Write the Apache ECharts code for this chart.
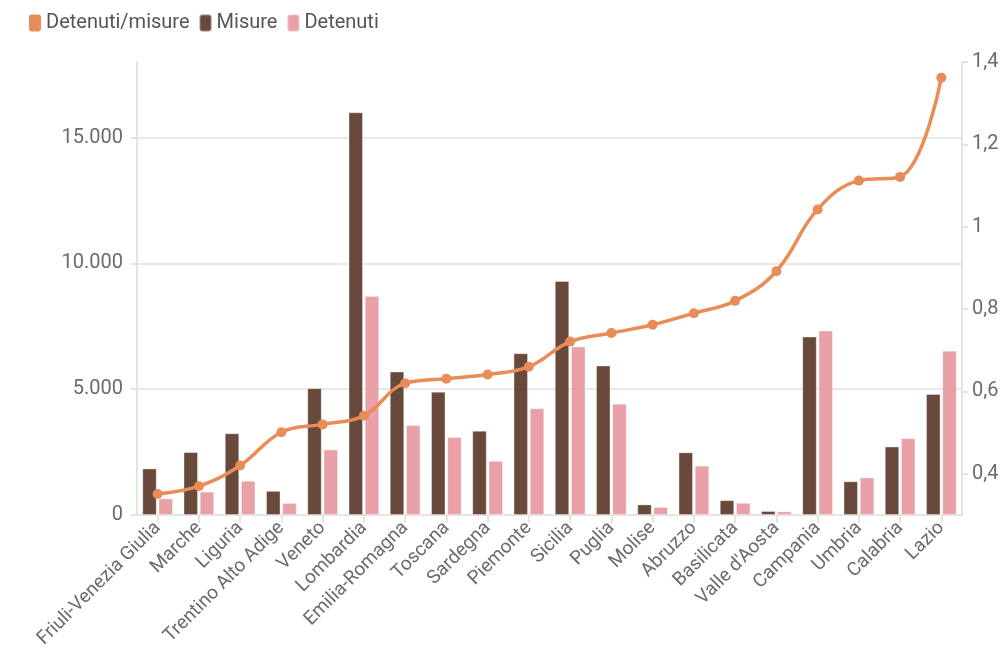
<!DOCTYPE html>
<html>
<head>
<meta charset="utf-8">
<script src="https://cdn.jsdelivr.net/npm/echarts@6/dist/echarts.min.js"></script>
<style>
  html, body { margin: 0; padding: 0; background: #ffffff; }
  #chart { width: 1005px; height: 661px; }
</style>
</head>
<body>
<div id="chart"></div>
<script>
// Regioni ordinate per rapporto detenuti/misure
const regioni = [
  'Friuli-Venezia Giulia', 'Marche', 'Liguria', 'Trentino Alto Adige', 'Veneto',
  'Lombardia', 'Emilia-Romagna', 'Toscana', 'Sardegna', 'Piemonte',
  'Sicilia', 'Puglia', 'Molise', 'Abruzzo', 'Basilicata',
  "Valle d'Aosta", 'Campania', 'Umbria', 'Calabria', 'Lazio'
];

// Misure alternative in corso
const misure = [
  1850, 2500, 3250, 960, 5040,
  16000, 5700, 4900, 3350, 6430,
  9300, 5940, 420, 2490, 590,
  160, 7090, 1340, 2720, 4810
];

// Detenuti presenti
const detenuti = [
  660, 930, 1360, 480, 2600,
  8700, 3580, 3100, 2150, 4240,
  6700, 4420, 320, 1960, 485,
  143, 7330, 1490, 3050, 6530
];

// Rapporto detenuti/misure
const rapporto = [
  0.351, 0.370, 0.420, 0.501, 0.520,
  0.541, 0.620, 0.631, 0.641, 0.660,
  0.721, 0.742, 0.762, 0.790, 0.820,
  0.892, 1.042, 1.112, 1.121, 1.362
];

const FONT = 'Roboto';
const TEXT = '#6b6b6b';
const AXIS = '#e4e4e4';

function migliaia(v) {
  return String(Math.round(v)).replace(/\B(?=(\d{3})+(?!\d))/g, '.');
}
function decimale(v) {
  return String(Math.round(v * 10) / 10).replace('.', ',');
}

const chart = echarts.init(document.getElementById('chart'), null, { renderer: 'canvas' });

chart.setOption({
  animation: false,
  textStyle: { fontFamily: FONT },
  legend: {
    left: 24,
    top: 8,
    itemWidth: 12,
    itemHeight: 17,
    itemGap: 9,
    icon: 'roundRect',
    textStyle: { fontFamily: FONT, fontSize: 20, color: '#555555' },
    data: ['Detenuti/misure', 'Misure', 'Detenuti']
  },
  grid: { left: 137, right: 43, top: 62, bottom: 146, containLabel: false },
  xAxis: {
    type: 'category',
    data: regioni,
    axisLine: { show: true, lineStyle: { color: AXIS, width: 1 } },
    axisTick: { show: true, alignWithLabel: true, length: 8, lineStyle: { color: AXIS, width: 2 } },
    axisLabel: {
      interval: 0,
      rotate: 45,
      margin: 10,
      color: TEXT,
      fontSize: 19,
      fontFamily: FONT
    }
  },
  yAxis: [
    {
      type: 'value',
      min: 0,
      max: 18000,
      interval: 5000,
      position: 'left',
      axisLine: { show: true, lineStyle: { color: AXIS, width: 2 } },
      axisTick: { show: true, length: 6, lineStyle: { color: AXIS, width: 2 } },
      splitLine: { show: true, showMaxLine: false, lineStyle: { color: '#e8e8e8', width: 2 } },
      axisLabel: {
        showMaxLabel: false,
        margin: 14,
        color: TEXT,
        fontSize: 20,
        fontFamily: FONT,
        formatter: migliaia
      }
    },
    {
      type: 'value',
      min: 0.3,
      max: 1.4,
      splitNumber: 5,
      position: 'right',
      axisLine: { show: true, lineStyle: { color: AXIS, width: 2 } },
      axisTick: { show: true, length: 6, lineStyle: { color: AXIS, width: 2 } },
      splitLine: { show: false },
      axisLabel: {
        showMinLabel: false,
        margin: 10,
        color: TEXT,
        fontSize: 20,
        fontFamily: FONT,
        formatter: decimale
      }
    }
  ],
  series: [
    {
      name: 'Detenuti/misure',
      type: 'line',
      yAxisIndex: 1,
      data: rapporto,
      smooth: 0.4,
      symbol: 'circle',
      symbolSize: 10,
      z: 5,
      lineStyle: { color: '#e88c58', width: 3.5 },
      itemStyle: { color: '#e88c58' }
    },
    {
      name: 'Misure',
      type: 'bar',
      yAxisIndex: 0,
      data: misure,
      barWidth: 14.5,
      barGap: '12%',
      itemStyle: {
        color: 'rgba(92, 58, 43, 0.92)',
        borderColor: 'rgba(255,255,255,0.35)',
        borderWidth: 1
      }
    },
    {
      name: 'Detenuti',
      type: 'bar',
      yAxisIndex: 0,
      data: detenuti,
      barWidth: 14.5,
      itemStyle: {
        color: 'rgba(229, 143, 152, 0.85)',
        borderColor: 'rgba(255,255,255,0.35)',
        borderWidth: 1
      }
    }
  ]
});
</script>
</body>
</html>
